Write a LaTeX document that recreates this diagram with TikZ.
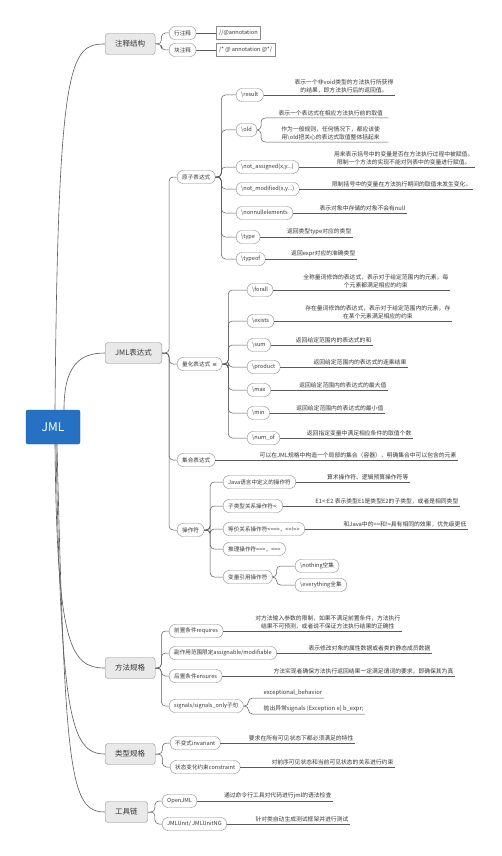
\documentclass[tikz,border=0pt]{standalone}
\usepackage{fontspec}
\setmainfont{Noto Sans CJK SC}
\newfontfamily\symfont{DejaVu Sans}
\usetikzlibrary{positioning,calc}
\definecolor{jmlblue}{RGB}{38,113,196}
\definecolor{boxgray}{RGB}{233,233,233}
\definecolor{edgegray}{RGB}{140,140,140}
\definecolor{linegray}{RGB}{90,90,90}
\definecolor{txtgray}{RGB}{55,55,55}
\newcommand\mainfs{\fontsize{7.5}{9}\selectfont}
\newcommand\pillfs{\fontsize{5.6}{6.6}\selectfont}
\newcommand\descfs{\fontsize{5.8}{8}\selectfont}
\newcommand\bs{\textbackslash}

\begin{document}
\begin{tikzpicture}[x=1pt,y=-1pt,
    rootbox/.style={fill=jmlblue,draw=jmlblue!80!black,rounded corners=2pt,minimum width=54,minimum height=34,text=white,font=\fontsize{12}{14}\selectfont},
    mainbox/.style={draw=edgegray,fill=boxgray,rounded corners=3pt,minimum height=21,inner xsep=10pt,font=\mainfs,text=txtgray,anchor=west},
    pill/.style={draw=edgegray,fill=white,rounded corners=6pt,minimum height=13,inner xsep=5pt,inner ysep=1pt,font=\pillfs,text=txtgray,anchor=west},
    codebox/.style={draw=edgegray,fill=white,minimum height=13,inner xsep=3pt,inner ysep=1pt,font=\pillfs,text=txtgray,anchor=west},
    desc/.style={font=\descfs,text=txtgray,align=center,inner sep=1.5pt,anchor=south east},
    link/.style={draw=linegray,line width=0.5pt,rounded corners=4pt}]
  \useasboundingbox[fill=white] (0,0) rectangle (501,856);
  % root and main branches
  \node[rootbox] (jml) at (53,427) {JML};
  \node[mainbox] (zs)  at (105,44)  {注释结构};
  \node[mainbox] (bds) at (105,353) {JML表达式};
  \node[mainbox] (ff)  at (105,668) {方法规格};
  \node[mainbox] (lx)  at (105,754) {类型规格};
  \node[mainbox] (gj)  at (105,812) {工具链};
  \draw[linegray,line width=0.6pt] ([xshift=2pt]jml.north) .. controls +(3,-350) and +(-35,0) .. (zs.west);
  \draw[linegray,line width=0.6pt] ([xshift=11pt]jml.north) .. controls +(0,-45) and +(-25,0) .. (bds.west);
  \draw[linegray,line width=0.6pt] ([xshift=2pt]jml.south) .. controls +(2,200) and +(-35,0) .. (ff.west);
  \draw[linegray,line width=0.6pt] ([xshift=3pt]jml.south) .. controls +(5,270) and +(-35,0) .. (lx.west);
  \draw[linegray,line width=0.6pt] ([xshift=4pt]jml.south) .. controls +(8,330) and +(-35,0) .. (gj.west);
  % comments
  \node[pill] (hz) at (169,33) {行注释};
  \node[pill] (kz) at (169,50) {块注释};
  \node[codebox] (hza) at (216,33) {//@annotation};
  \node[codebox] (kza) at (216,50) {/* @ annotation @*/};
  \foreach \c in {hz,kz}{\draw[link] (zs.east) -- ++(6,0) |- (\c.west);}
  \draw[link] (hz.east) -- (hza.west);
  \draw[link] (kz.east) -- (kza.west);
  % JML expressions
  \node[pill] (atom) at (177,177) {原子表达式};
  \node[pill] (quan) at (177,364) {量化表达式\ \,{\symfont ≡}};
  \node[pill] (coll) at (177,460) {集合表达式};
  \node[pill] (oper) at (177,530) {操作符};
  \foreach \c in {atom,quan,coll,oper}{\draw[link] (bds.east) -- ++(7,0) |- (\c.west);}
  % atomic
  \node[pill] (result)  at (236,95)  {\bs result};
  \node[pill] (old)     at (236,130) {\bs old};
  \node[pill] (nota)    at (236,167) {\bs not\_assigned(x,y...)};
  \node[pill] (notm)    at (236,189) {\bs not\_modified(x,y...)};
  \node[pill] (nonnull) at (236,213) {\bs nonnullelements};
  \node[pill] (type)    at (236,237) {\bs type};
  \node[pill] (typeof)  at (236,259) {\bs typeof};
  \foreach \c in {result,old,nota,notm,nonnull,type,typeof}{\draw[link] (atom.east) -- ++(6,0) |- (\c.west);}
  \node[desc] (dresult)  at (395,95)  {表示一个非void类型的方法执行所获得\\的结果，即方法执行后的返回值。};
  \node[desc,anchor=south west,minimum width=115] (olda) at (273,118) {表示一个表达式在相应方法执行前的取值};
  \node[desc,anchor=south west,minimum width=115] (oldb) at (273,142) {作为一般规则，任何情况下，都应该使\\用\bs old把关心的表达式取值整体括起来};
  \node[desc] (dnota)    at (475,167) {用来表示括号中的变量是否在方法执行过程中被赋值。\\限制一个方法的实现不能对列表中的变量进行赋值。};
  \node[desc] (dnotm)    at (473,189) {限制括号中的变量在方法执行期间的取值未发生变化。};
  \node[desc] (dnonnull) at (407,213) {表示对象中存储的对象不会有null};
  \node[desc] (dtype)    at (353,237) {返回类型type对应的类型};
  \node[desc] (dtypeof)  at (357,259) {返回expr对应的准确类型};
  \foreach \c in {olda,oldb}{\draw[link] (old.east) -- ++(4,0) |- (\c.south west) -- (\c.south east);}
  % quantified
  \node[pill] (forall)  at (247,290) {\bs forall};
  \node[pill] (exists)  at (247,321) {\bs exists};
  \node[pill] (sum)     at (247,345) {\bs sum};
  \node[pill] (product) at (247,367) {\bs product};
  \node[pill] (max)     at (247,390) {\bs max};
  \node[pill] (min)     at (247,413) {\bs min};
  \node[pill] (numof)   at (247,438) {\bs num\_of};
  \foreach \c in {forall,exists,sum,product,max,min,numof}{\draw[link] (quan.east) -- ++(6,0) |- (\c.west);}
  \node[desc] (dforall)  at (450,290) {全称量词修饰的表达式，表示对于给定范围内的元素，每\\个元素都满足相应的约束};
  \node[desc] (dexists)  at (452,321) {存在量词修饰的表达式，表示对于给定范围内的元素，存\\在某个元素满足相应的约束};
  \node[desc] (dsum)     at (373,345) {返回给定范围内的表达式的和};
  \node[desc] (dproduct) at (408,367) {返回给定范围内的表达式的连乘结果};
  \node[desc] (dmax)     at (388,390) {返回给定范围内的表达式的最大值};
  \node[desc] (dmin)     at (385,413) {返回给定范围内的表达式的最小值};
  \node[desc] (dnumof)   at (413,438) {返回指定变量中满足相应条件的取值个数};
  \node[desc] (dcoll)    at (458,460) {可以在JML规格中构造一个局部的集合（容器），明确集合中可以包含的元素};
  % operators
  \node[pill] (javaop) at (223,482) {Java语言中定义的操作符};
  \node[pill] (subop)  at (223,506) {子类型关系操作符<:};
  \node[pill] (eqop)   at (223,529) {等价关系操作符<==>，<=!=>};
  \node[pill] (infop)  at (223,549) {推理操作符==>，<==};
  \node[pill] (varop)  at (223,577) {变量引用操作符};
  \foreach \c in {javaop,subop,eqop,infop,varop}{\draw[link] (oper.east) -- ++(6,0) |- (\c.west);}
  \node[desc] (djavaop) at (410,482) {算术操作符、逻辑预算操作符等};
  \node[desc] (dsubop)  at (460,506) {E1<:E2 表示类型E1是类型E2的子类型，或者是相同类型};
  \node[desc] (deqop)   at (468,529) {和Java中的==和!=具有相同的效果，优先级更低};
  \node[pill] (nothing)    at (295,566) {\bs nothing空集};
  \node[pill] (everything) at (295,585) {\bs everything全集};
  \foreach \c in {nothing,everything}{\draw[link] (varop.east) -- ++(4,0) |- (\c.west);}
  \foreach \p/\d in {result/dresult,nota/dnota,notm/dnotm,nonnull/dnonnull,type/dtype,typeof/dtypeof,
      forall/dforall,exists/dexists,sum/dsum,product/dproduct,max/dmax,min/dmin,numof/dnumof,
      coll/dcoll,javaop/djavaop,subop/dsubop,eqop/deqop}{\draw[link] (\p.east) -- (\d.south east);}
  % method specification
  \node[pill] (req) at (169,631) {前置条件requires};
  \node[pill] (asg) at (169,653) {副作用范围限定assignable/modifiable};
  \node[pill] (ens) at (169,676) {后置条件ensures};
  \node[pill] (sig) at (169,706) {signals/signals\_only子句};
  \foreach \c in {req,asg,ens,sig}{\draw[link] (ff.east) -- ++(6,0) |- (\c.west);}
  \node[desc] (dreq) at (402,631) {对方法输入参数的限制，如果不满足前置条件，方法执行\\结果不可预测，或者说不保证方法执行结果的正确性};
  \node[desc] (dasg) at (432,653) {表示修改对象的属性数据或者类的静态成员数据};
  \node[desc] (dens) at (455,676) {方法实现者确保方法执行返回结果一定满足谓词的要求，即确保其为真};
  \node[desc,anchor=south west] (siga) at (262,698) {exceptional\_behavior};
  \node[desc,anchor=south west] (sigb) at (262,714) {抛出异常signals (Exception e) b\_expr;};
  \foreach \c in {siga,sigb}{\draw[link] (sig.east) -- ++(5,0) |- (\c.south west) -- (\c.south east);}
  % type specification
  \node[pill] (inv) at (170,743) {不变式invariant};
  \node[pill] (con) at (170,767) {状态变化约束constraint};
  \foreach \c in {inv,con}{\draw[link] (lx.east) -- ++(7,0) |- (\c.west);}
  \node[desc] (dinv) at (355,743) {要求在所有可见状态下都必须满足的特性};
  \node[desc] (dcon) at (395,767) {对前序可见状态和当前可见状态的关系进行约束};
  % tool chain
  \node[pill] (ojml) at (162,801) {OpenJML};
  \node[pill] (junit) at (162,824) {JMLUnit/ JMLUnitNG};
  \foreach \c in {ojml,junit}{\draw[link] (gj.east) -- ++(7,0) |- (\c.west);}
  \node[desc] (dojml)  at (333,801) {通过命令行工具对代码进行jml的语法检查};
  \node[desc] (djunit) at (350,824) {针对类自动生成测试框架并进行测试};
  \foreach \p/\d in {req/dreq,asg/dasg,ens/dens,inv/dinv,con/dcon,ojml/dojml,junit/djunit}{\draw[link] (\p.east) -- (\d.south east);}
\end{tikzpicture}
\end{document}
